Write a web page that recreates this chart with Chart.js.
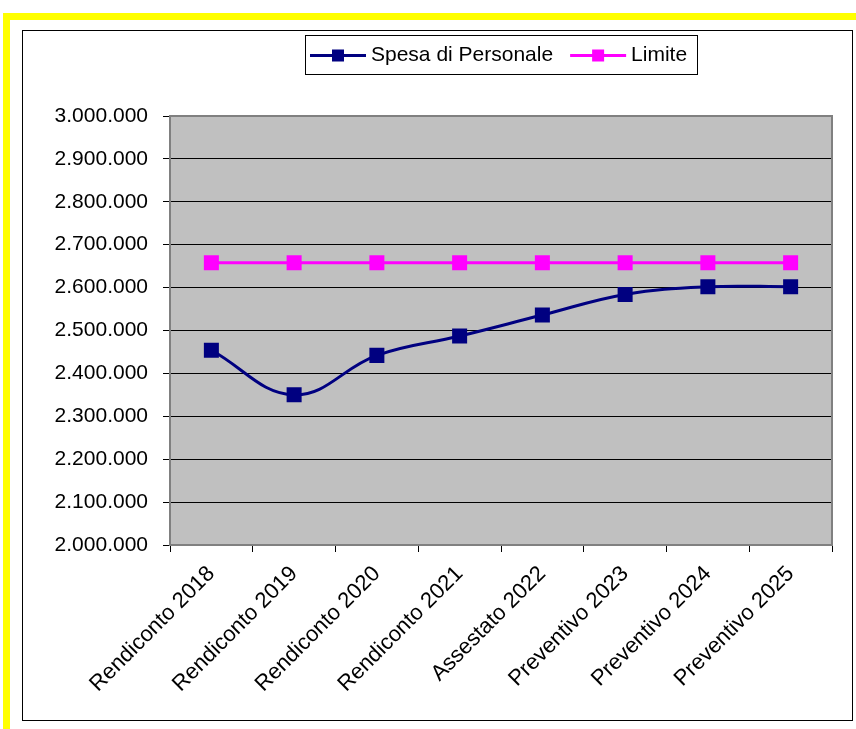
<!DOCTYPE html>
<html>
<head>
<meta charset="utf-8">
<script src="https://cdn.jsdelivr.net/npm/chart.js@4.4.1/dist/chart.umd.min.js"></script>
<style>
  body { margin: 0; background: #fff; }
  #yellow { position: absolute; left: 3px; top: 13px; width: 900px; height: 800px; border: 7px solid #ffff00; box-sizing: border-box; }
  #frame { position: absolute; left: 22px; top: 30px; width: 831px; height: 691px; border: 1px solid #000; box-sizing: border-box; }
  #wrap { position: absolute; left: 0; top: 0; width: 856px; height: 729px; overflow: hidden; }
  canvas { position: absolute; left: 0; top: 0; }
</style>
</head>
<body>
<div id="wrap">
  <div id="yellow"></div>
  <div id="frame"></div>
  <canvas id="myChart" width="856" height="729"></canvas>
</div>
<script>
// data
const categories = [
  "Rendiconto 2018", "Rendiconto 2019", "Rendiconto 2020", "Rendiconto 2021",
  "Assestato 2022", "Preventivo 2023", "Preventivo 2024", "Preventivo 2025",
];
const spesaPersonale = [2454000, 2350000, 2442000, 2487000, 2536000, 2584000, 2602000, 2602000];
const limite = [2658000, 2658000, 2658000, 2658000, 2658000, 2658000, 2658000, 2658000];
const seriesNames = ["Spesa di Personale", "Limite"];
const yMin = 2000000;
const yMax = 3000000;
const yStep = 100000;

const fontFamily = "'Liberation Sans', Arial, sans-serif";

// dots as thousands separator
function formatNum(v) {
  return String(v).replace(/\B(?=(\d{3})+(?!\d))/g, ".");
}

// grey plot background + border
const plotBg = {
  id: "plotBg",
  beforeDraw(chart) {
    const { ctx, chartArea: a } = chart;
    ctx.save();
    ctx.fillStyle = "#c0c0c0";
    ctx.fillRect(a.left, a.top, a.right - a.left, a.bottom - a.top);
    ctx.restore();
  },
  beforeDatasetsDraw(chart) {
    const { ctx, chartArea: a } = chart;
    ctx.save();
    ctx.strokeStyle = "#808080";
    ctx.lineWidth = 2;
    ctx.strokeRect(a.left, a.top, a.right - a.left, a.bottom - a.top);
    ctx.restore();
  },
};

// boxed legend like the excel one
const boxLegend = {
  id: "boxLegend",
  afterDraw(chart) {
    const ctx = chart.ctx;
    const x0 = 305, y0 = 35, w = 392, h = 39;
    ctx.save();
    ctx.fillStyle = "#fff";
    ctx.fillRect(x0, y0, w, h);
    ctx.strokeStyle = "#000";
    ctx.lineWidth = 1;
    ctx.strokeRect(x0 + 0.5, y0 + 0.5, w, h);
    ctx.font = "21px " + fontFamily;
    ctx.textBaseline = "middle";
    const cy = y0 + h / 2 + 1;
    let x = x0 + 5;
    chart.data.datasets.forEach((ds) => {
      ctx.strokeStyle = ds.borderColor;
      ctx.lineWidth = 3;
      ctx.beginPath();
      ctx.moveTo(x, cy);
      ctx.lineTo(x + 56, cy);
      ctx.stroke();
      ctx.fillStyle = ds.pointBackgroundColor;
      ctx.fillRect(x + 22, cy - 6, 12, 12);
      ctx.fillStyle = "#000";
      ctx.fillText(ds.label, x + 61, cy);
      x += 61 + ctx.measureText(ds.label).width + 17;
    });
    ctx.restore();
  },
};

new Chart("myChart", {
  type: "line",
  data: {
    labels: categories,
    datasets: [
      {
        label: seriesNames[0],
        data: spesaPersonale,
        borderColor: "#000080",
        backgroundColor: "#000080",
        pointBackgroundColor: "#000080",
        pointBorderColor: "#000080",
        pointStyle: "rect",
        pointRadius: 8.5,
        borderWidth: 3,
        tension: 0.4,
      },
      {
        label: seriesNames[1],
        data: limite,
        borderColor: "#ff00ff",
        backgroundColor: "#ff00ff",
        pointBackgroundColor: "#ff00ff",
        pointBorderColor: "#ff00ff",
        pointStyle: "rect",
        pointRadius: 8.5,
        borderWidth: 3,
        tension: 0,
      },
    ],
  },
  options: {
    responsive: false,
    animation: false,
    layout: { padding: { left: 0, right: 24, top: 116, bottom: 0 } },
    plugins: {
      legend: { display: false },
      tooltip: { enabled: false },
    },
    scales: {
      x: {
        offset: true,
        afterFit(scale) { scale.height = 184; },
        grid: {
          offset: true,
          drawOnChartArea: false,
          drawTicks: true,
          tickLength: 7,
          color: "#000",
        },
        border: { display: false },
        ticks: {
          autoSkip: false,
          minRotation: 45,
          maxRotation: 45,
          padding: 9,
          color: "#000",
          font: { family: fontFamily, size: 22 },
        },
      },
      y: {
        min: yMin,
        max: yMax,
        afterFit(scale) { scale.width = 170; },
        grid: {
          color: "#000",
          lineWidth: 1,
          drawTicks: true,
          tickLength: 7,
        },
        border: { display: false },
        ticks: {
          stepSize: yStep,
          padding: 15,
          color: "#000",
          font: { family: fontFamily, size: 21 },
          callback: (v) => formatNum(v),
        },
      },
    },
  },
  plugins: [plotBg, boxLegend],
});
</script>
</body>
</html>
